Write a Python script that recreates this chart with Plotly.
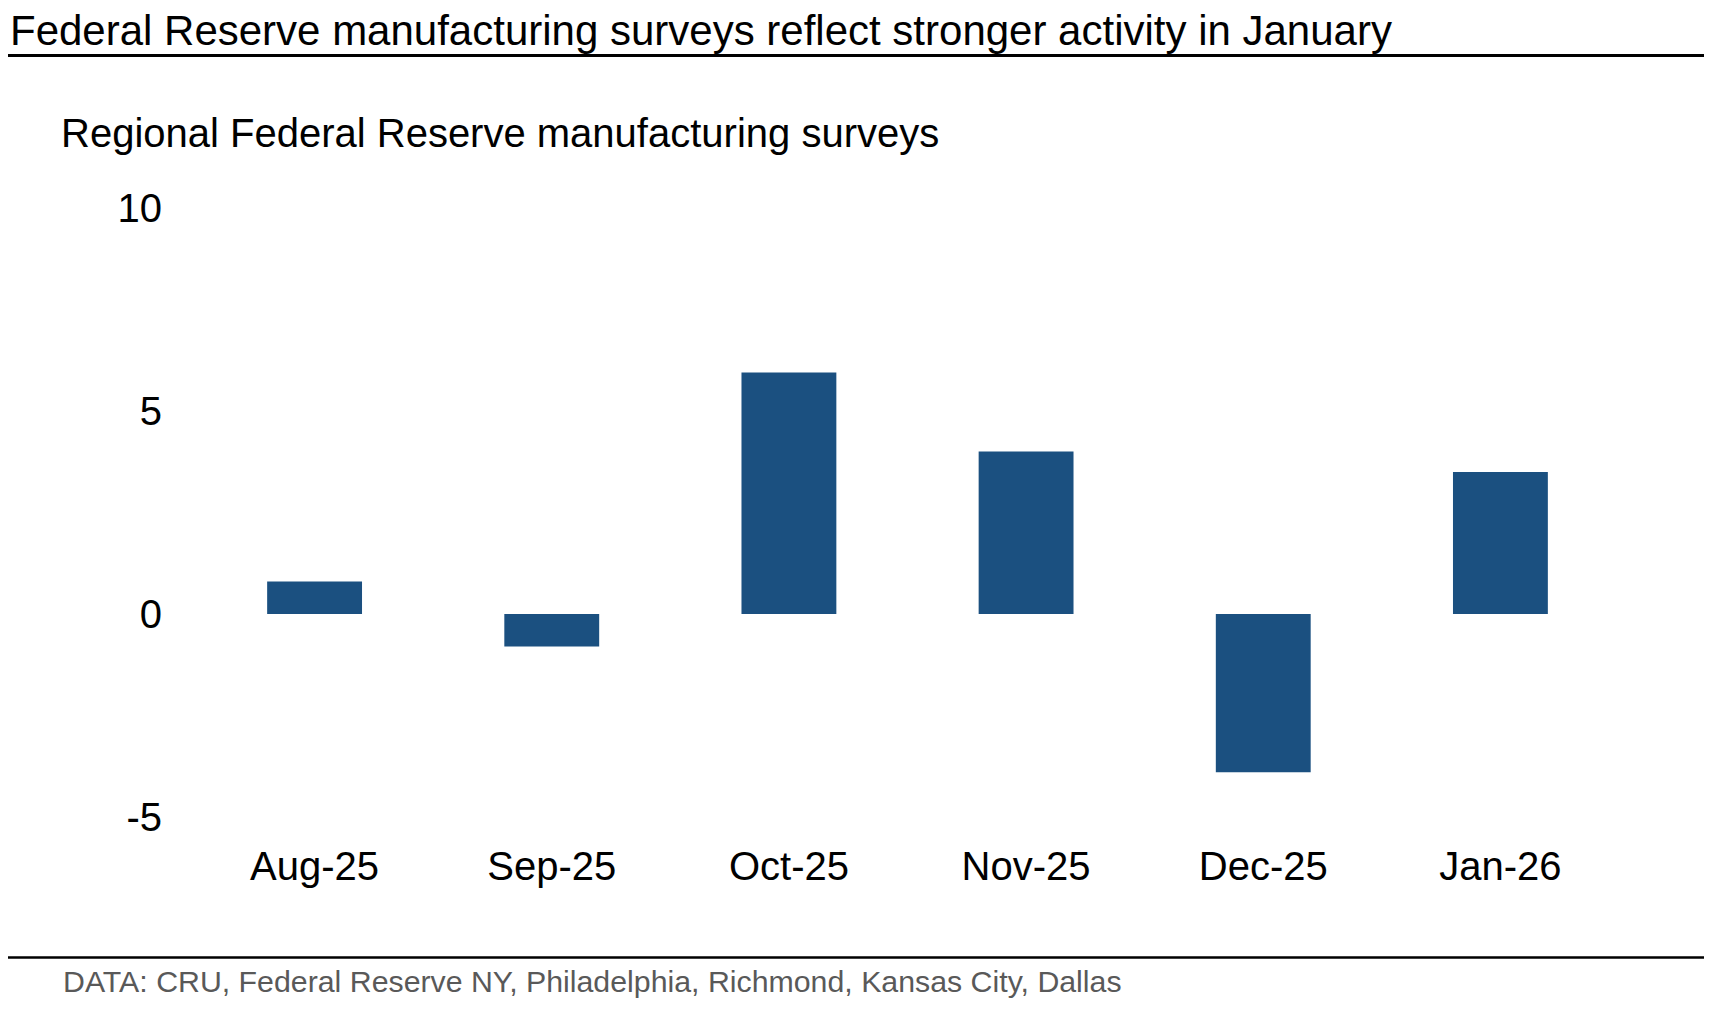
import plotly.graph_objects as go

# Data
months = ["Aug-25", "Sep-25", "Oct-25", "Nov-25", "Dec-25", "Jan-26"]
values = [0.8, -0.8, 5.95, 4.0, -3.9, 3.5]
y_ticks = [-5, 0, 5, 10]
y_tick_labels = ["-5", "0", "5", "10"]

title_text = "Federal Reserve manufacturing surveys reflect stronger activity in January"
subtitle_text = "Regional Federal Reserve manufacturing surveys"
source_text = "DATA: CRU, Federal Reserve NY, Philadelphia, Richmond, Kansas City, Dallas"

# The page body has an 8px margin; size the figure so it fits the 1712x1018 window.
OFF = 8
W, H = 1712 - OFF, 1018 - 2 * OFF
# plot area in screen pixels
PL, PR, PT, PB = 196, 1618.6, 208, 817
ML, MR, MT, MB = PL - OFF, W - (PR - OFF), PT - OFF, H - (PB - OFF)
PW = W - ML - MR
PH = H - MT - MB


def px_x(sx):
    return (sx - OFF - ML) / PW


def px_y(sy):
    return (H - MB - (sy - OFF)) / PH


FONT = "Liberation Sans, Arial, sans-serif"
BAR_COLOR = "#1b5080"

fig = go.Figure()
fig.add_trace(go.Bar(x=months, y=values, marker=dict(color=BAR_COLOR, line=dict(width=0)),
                     hoverinfo="x+y"))

fig.update_layout(
    width=W, height=H,
    margin=dict(l=ML, r=MR, t=MT, b=MB, pad=0),
    paper_bgcolor="white", plot_bgcolor="white",
    showlegend=False,
    bargap=0.6,
    font=dict(family=FONT, color="black"),
    xaxis=dict(showgrid=False, zeroline=False, showline=False, ticks="",
               tickfont=dict(size=40, color="black", family=FONT),
               ticklabelstandoff=22, range=[-0.5, 5.5]),
    yaxis=dict(showgrid=False, zeroline=False, showline=False, ticks="",
               range=[-5, 10], tickvals=y_ticks, ticktext=y_tick_labels,
               tickfont=dict(size=40, color="black", family=FONT),
               ticklabelstandoff=33),
)

annotations = [
    dict(text=title_text, x=px_x(9), y=px_y(OFF - 2), xref="paper", yref="paper",
         xanchor="left", yanchor="top", showarrow=False, borderpad=0,
         font=dict(size=42, color="black", family=FONT)),
    dict(text=subtitle_text, x=px_x(59), y=px_y(133), xref="paper", yref="paper",
         xanchor="left", yanchor="middle", showarrow=False,
         font=dict(size=40, color="black", family=FONT)),
    dict(text=source_text, x=px_x(61), y=px_y(981), xref="paper", yref="paper",
         xanchor="left", yanchor="middle", showarrow=False,
         font=dict(size=30.3, color="#595959", family=FONT)),
]
fig.update_layout(annotations=annotations)

shapes = [
    dict(type="line", xref="paper", yref="paper", x0=px_x(8), x1=px_x(1712 + 4), y0=px_y(55.5), y1=px_y(55.5),
         line=dict(color="black", width=3)),
    dict(type="line", xref="paper", yref="paper", x0=px_x(8), x1=px_x(1712 + 4), y0=px_y(957.5), y1=px_y(957.5),
         line=dict(color="black", width=2.5)),
]
fig.update_layout(shapes=shapes)

fig.write_html("out.html")
